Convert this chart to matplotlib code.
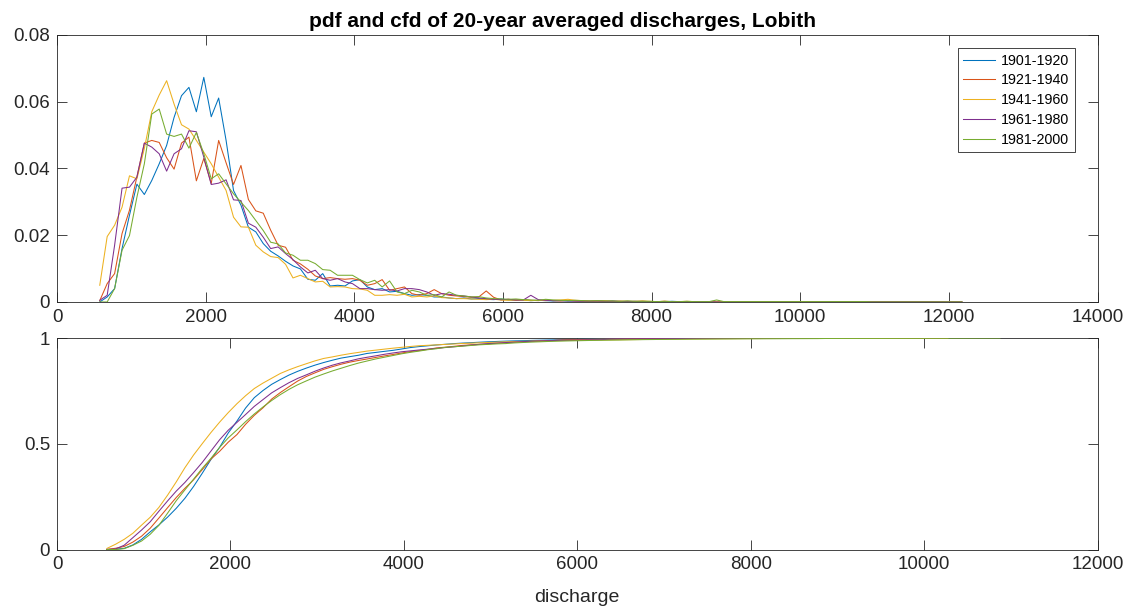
import numpy as np
import matplotlib
matplotlib.use("Agg")
import matplotlib.pyplot as plt

plt.rcParams["font.family"] = ["Liberation Sans", "DejaVu Sans"]

# histogram bin centres of the discharge (m3/s)
bin_centres = np.arange(575, 12176, 100)

periods = ["1901-1920", "1921-1940", "1941-1960", "1961-1980", "1981-2000"]
colors = ["#0072BD", "#D95319", "#EDB120", "#7E2F8E", "#77AC30"]

# === pdf per bin (x 1e-3), bins 575 .. 5375 ===
pdf_1901 = [0, 1.5, 4, 16, 26, 35.3, 32.2, 36.4, 41.4, 46.9,
            55.3, 61.8, 64.3, 57, 67.3, 55.5, 61.1, 48.4, 33.4, 29,
            22.4, 21, 17.5, 15.2, 13.8, 12.2, 10.8, 9.9, 6.8, 6.5,
            8.5, 4.8, 5, 4.8, 6.3, 6.7, 4.5, 3.7, 4, 3,
            3.2, 2.5, 2, 2.2, 2, 1.5, 1.5, 1.2, 1]
pdf_1921 = [0.4, 5.5, 8.5, 20.5, 27.5, 37.5, 47.6, 48.4, 47.8, 43.2,
            39.8, 47.6, 49.4, 36.3, 43, 35.5, 48.4, 41.7, 35.2, 40.9,
            30.7, 27.3, 26.6, 21.5, 17, 16.4, 12.5, 11.4, 9.8, 7.8,
            7, 7.3, 7, 6.8, 7, 6.5, 5, 5.5, 6.7, 3.5,
            4, 4.5, 2.5, 2, 2.5, 3.7, 2.5, 2, 1.8]
pdf_1941 = [5, 19.6, 23, 28.4, 37.8, 36.9, 46, 57, 62, 66.3,
            59.3, 53.1, 51.8, 48.4, 44.9, 41.4, 37.4, 33.4, 25.4, 22.5,
            22.4, 17, 15, 13.6, 13.3, 11.3, 7.2, 8, 7, 6,
            6.2, 4.5, 4.6, 4.5, 4, 3.9, 3.5, 2, 2, 2.2,
            2, 2.3, 1.5, 1.7, 1.5, 1.8, 1.3, 1.2, 1]
pdf_1961 = [0.5, 2, 17, 34.1, 34.4, 37.4, 47.6, 46.4, 44.4, 39.2,
            44.4, 45.9, 51.3, 51, 43.4, 35.2, 35.6, 36.6, 30.6, 30.4,
            23.6, 22.4, 19.4, 16, 16.5, 14.5, 12.7, 10.5, 8.7, 9.5,
            7, 6.5, 7, 6, 5.5, 4, 4, 3.7, 3.5, 3.7,
            3.3, 4, 4, 3.7, 3, 2, 2.5, 2.3, 2]
pdf_1981 = [0, 0, 4, 15.5, 19.9, 31.4, 41.4, 56.3, 57.8, 50.3,
            49.6, 50.3, 46.1, 50.8, 44.4, 36.9, 38.4, 35.4, 32.4, 29.9,
            27.4, 24.4, 21.4, 17.9, 17.4, 14.7, 14, 12.5, 12.5, 11.5,
            9.7, 9.5, 8, 8, 8, 6.7, 5.7, 6.5, 4.5, 6.3,
            3, 2.5, 3.5, 3, 2, 2.2, 1.5, 3, 2]

# low tails from 5475 on (x 1e-3); no counts after the last value
tail_1901 = [1.2, 0.9, 1.0, 0.8, 0.7, 0.9, 0.6, 0.5, 0.6, 0.4,
             0.5, 0.4, 0.3, 0.4, 0.3, 0.3, 0.2, 0.3, 0.2, 0.2,
             0.3, 0.1, 0.2, 0.1, 0.2, 0.1, 0.1, 0.1, 0.2, 0.1, 0.1]
tail_1921 = [1.6, 1.4, 1.5, 3.3, 1.4, 0.6, 0.8, 0.5, 0.7, 0.5,
             0.4, 0.6, 0.4, 0.3, 0.5, 0.3, 0.3, 0.2, 0.3, 0.2,
             0.2, 0.1, 0.2, 0.1, 0.2, 0.1, 0.1, 0.2, 0.1, 0.1,
             0.1, 0.1, 0.1]
tail_1941 = [1.0, 0.9, 0.8, 0.7, 0.8, 0.6, 0.5, 0.6, 0.5, 0.4,
             0.5, 0.4, 0.5, 0.6, 0.8, 0.5, 0.4, 0.3, 0.3, 0.4,
             0.2, 0.3, 0.2, 0.2, 0.3, 0.2, 0.1, 0.2, 0.1, 0.1,
             0.2, 0.1, 0.1, 0.1, 0.2, 0.1, 0.1, 0.1, 0.1, 0.1,
             0.1, 0.1, 0.1, 0.1, 0.1, 0.1, 0.1, 0.1, 0.1]
tail_1961 = [1.8, 1.5, 1.2, 1.0, 0.8, 0.7, 0.8, 0.6, 0.6, 2.0,
             0.7, 0.5, 0.4, 0.4, 0.3, 0.3, 0.3, 0.2, 0.3, 0.2,
             0.2, 0.2, 0.1, 0.2, 0.1, 0.1, 0.1, 0.1, 0.1, 0.1,
             0.1, 0.1, 0.1, 0.1]
tail_1981 = [1.8, 1.5, 1.6, 1.2, 1.0, 0.9, 0.8, 0.9, 0.7, 0.6,
             0.5, 0.8, 0.6, 0.5, 0.4, 0.5, 0.4, 0.3, 0.4, 0.3,
             0.3, 0.2, 0.3, 0.2, 0.2, 0.2, 0.1, 0.2, 0.1, 0.1,
             0.2, 0.1, 0.1, 0.1, 0.6, 0.1, 0.1, 0.1, 0.1, 0.1,
             0.1, 0.1, 0.1, 0.1, 0.1, 0.1, 0.1, 0.1, 0.1, 0.1,
             0.1, 0.1, 0.1, 0.1, 0.1]

mains = [pdf_1901, pdf_1921, pdf_1941, pdf_1961, pdf_1981]
tails = [tail_1901, tail_1921, tail_1941, tail_1961, tail_1981]

AX_COL = "#262626"

fig = plt.figure(figsize=(11.29, 6.06), dpi=100)
ax1 = fig.add_axes([0.0505, 0.5017, 0.9216, 0.4406])
ax2 = fig.add_axes([0.0505, 0.0932, 0.9216, 0.349])

for main, tail, period, col in zip(mains, tails, periods, colors):
    pdf = np.array(main + tail, dtype=float) / 1000.0
    pdf = np.pad(pdf, (0, len(bin_centres) - len(pdf)))
    cdf = np.cumsum(pdf) / pdf.sum()
    last = np.flatnonzero(pdf)[-1] + 1
    ax1.plot(bin_centres, pdf, color=col, lw=0.75, label=period)
    ax2.plot(bin_centres[:last], cdf[:last], color=col, lw=0.75)

ax1.set_xlim(0, 14000)
ax1.set_ylim(0, 0.08)
ax1.set_xticks(np.arange(0, 14001, 2000))
ax1.set_yticks([0, 0.02, 0.04, 0.06, 0.08])
ax1.set_yticklabels(["0", "0.02", "0.04", "0.06", "0.08"])
ax1.set_title("pdf and cfd of 20-year averaged discharges, Lobith",
              fontsize=15, fontweight="bold", color="black", pad=6, x=0.486)

ax2.set_xlim(0, 12000)
ax2.set_ylim(0, 1)
ax2.set_xticks(np.arange(0, 12001, 2000))
ax2.set_yticks([0, 0.5, 1])
ax2.set_yticklabels(["0", "0.5", "1"])
ax2.set_xlabel("discharge", fontsize=14, color=AX_COL, labelpad=11)

for ax in (ax1, ax2):
    ax.tick_params(direction="in", top=True, right=True, length=7, width=0.6,
                   labelsize=13.5, colors=AX_COL, pad=5)
    for sp in ax.spines.values():
        sp.set_color(AX_COL)
        sp.set_linewidth(0.6)
        sp.set_zorder(1.5)

leg = ax1.legend(loc="upper right", bbox_to_anchor=(0.978, 0.951), fontsize=10.3,
                 fancybox=False, framealpha=1, edgecolor=AX_COL,
                 handlelength=2.2, handletextpad=0.4, borderpad=0.4,
                 labelspacing=0.4, borderaxespad=0)
leg.get_frame().set_linewidth(0.6)

fig.savefig("out.png", dpi=100, facecolor="white")
